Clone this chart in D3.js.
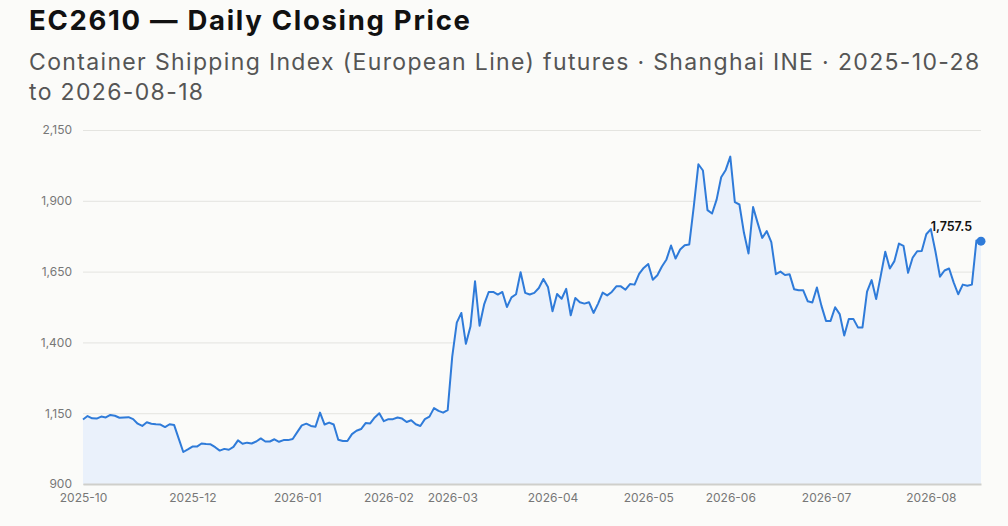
<!DOCTYPE html>
<html>
<head>
<meta charset="utf-8">
<script src="https://cdn.jsdelivr.net/npm/d3@7"></script>
<style>
    body { margin: 0; background: #fbfbf9; }
    svg { display: block; font-family: Inter, "Noto Sans", sans-serif; }
</style>
</head>
<body>
<div id="chart"></div>
<script>
// Trading days per month (INE calendar, holidays removed)
const tradingDays = {
    "2025-10": [28, 29, 30, 31],
    "2025-11": [3, 4, 5, 6, 7, 10, 11, 12, 13, 14, 17, 18, 19, 20, 21, 24, 25, 26, 27, 28],
    "2025-12": [1, 2, 3, 4, 5, 8, 9, 10, 11, 12, 15, 16, 17, 18, 19, 22, 23, 24, 25, 26, 29, 30, 31],
    "2026-01": [5, 6, 7, 8, 9, 12, 13, 14, 15, 16, 19, 20, 21, 22, 23, 26, 27, 28, 29, 30],
    "2026-02": [2, 3, 4, 5, 6, 9, 10, 11, 12, 13, 24, 25, 26, 27],
    "2026-03": [2, 3, 4, 5, 6, 9, 10, 11, 12, 13, 16, 17, 18, 19, 20, 23, 24, 25, 26, 27, 30, 31],
    "2026-04": [1, 2, 3, 7, 8, 9, 10, 13, 14, 15, 16, 17, 20, 21, 22, 23, 24, 27, 28, 29, 30],
    "2026-05": [6, 7, 8, 11, 12, 13, 14, 15, 18, 19, 20, 21, 22, 25, 26, 27, 28, 29],
    "2026-06": [1, 2, 3, 4, 5, 8, 9, 10, 11, 12, 15, 16, 17, 18, 22, 23, 24, 25, 26, 29, 30],
    "2026-07": [1, 2, 3, 6, 7, 8, 9, 10, 13, 14, 15, 16, 17, 20, 21, 22, 23, 24, 27, 28, 29, 30, 31],
    "2026-08": [3, 4, 5, 6, 7, 10, 11, 12, 13, 14, 17, 18]
};

// Daily closes, one per trading day above
const closes = [
    1128, 1140, 1132, 1131, 1138, 1135, 1144, 1141, 1134, 1135,
    1136, 1129, 1113, 1105, 1118, 1113, 1111, 1110, 1101, 1111,
    1108, 1060, 1013, 1022, 1032, 1032, 1043, 1041, 1040, 1030,
    1018, 1024, 1021, 1031, 1054, 1042, 1046, 1043, 1050, 1061,
    1050, 1050, 1058, 1049, 1055, 1055, 1059, 1083, 1107, 1113,
    1105, 1102, 1152, 1110, 1117, 1110, 1056, 1052, 1052, 1076,
    1088, 1094, 1115, 1114, 1135, 1150, 1122, 1129, 1129, 1135,
    1131, 1119, 1125, 1111, 1105, 1129, 1138, 1168, 1158, 1152,
    1161, 1350, 1470, 1504, 1395, 1456, 1616, 1459, 1534, 1578,
    1578, 1569, 1578, 1525, 1559, 1570, 1648, 1575, 1569, 1575,
    1592, 1624, 1596, 1510, 1571, 1554, 1589, 1496, 1557, 1542,
    1537, 1542, 1504, 1537, 1576, 1566, 1578, 1598, 1598, 1586,
    1606, 1604, 1642, 1663, 1677, 1621, 1637, 1668, 1693, 1742,
    1696, 1728, 1743, 1746, 1881, 2029, 2007, 1867, 1855, 1904,
    1983, 2009, 2056, 1895, 1887, 1787, 1714, 1878, 1822, 1769,
    1793, 1754, 1641, 1650, 1638, 1641, 1588, 1584, 1584, 1545,
    1541, 1594, 1529, 1476, 1476, 1524, 1500, 1424, 1483, 1483,
    1453, 1453, 1579, 1620, 1553, 1635, 1720, 1661, 1687, 1749,
    1741, 1646, 1699, 1722, 1723, 1782, 1800, 1722, 1632, 1654,
    1661, 1612, 1570, 1604, 1600, 1604, 1760, 1757.5
];

// Month labels shown on the x axis (2025-11 is skipped, too close to the start)
const monthLabels = ["2025-10", "2025-12", "2026-01", "2026-02", "2026-03", "2026-04", "2026-05", "2026-06", "2026-07", "2026-08"];
const yTicks = [900, 1150, 1400, 1650, 1900, 2150];

const title = "EC2610 — Daily Closing Price";
const subtitle = ["Container Shipping Index (European Line) futures · Shanghai INE · 2025-10-28", "to 2026-08-18"];

// build rows
const dates = [];
Object.keys(tradingDays).forEach(m => {
    tradingDays[m].forEach(d => dates.push(m + "-" + String(d).padStart(2, "0")));
});
const data = dates.map((d, i) => ({ date: d, month: d.slice(0, 7), close: closes[i] }));

// SVG dimensions
const svgWidth = 1008;
const svgHeight = 526;
const margin = { top: 130, right: 27, bottom: 42, left: 83 };
const width = svgWidth - margin.left - margin.right;
const height = svgHeight - margin.top - margin.bottom;

const svg = d3.select("#chart").append("svg")
    .attr("width", svgWidth)
    .attr("height", svgHeight);

svg.append("rect")
    .attr("width", svgWidth)
    .attr("height", svgHeight)
    .attr("fill", "#fbfbf9");

// titles (letter-spacing widens Inter toward the system font of the original)
svg.append("text")
    .attr("x", 29)
    .attr("y", 30)
    .attr("font-size", 27.5)
    .attr("font-weight", 700)
    .attr("letter-spacing", 1.7)
    .attr("fill", "#111")
    .text(title);

subtitle.forEach((line, i) => {
    svg.append("text")
        .attr("x", 29)
        .attr("y", 70 + i * 30)
        .attr("font-size", 23)
        .attr("letter-spacing", 1.35)
        .attr("fill", "#555")
        .text(line);
});

const g = svg.append("g")
    .attr("transform", "translate(" + margin.left + "," + margin.top + ")");

// scales: one slot per trading day
const xScale = d3.scalePoint()
    .domain(data.map(d => d.date))
    .range([0, width]);

const yScale = d3.scaleLinear()
    .domain([900, 2150])
    .range([height, 0]);

// gridlines + y labels
const yAxis = g.append("g")
    .call(d3.axisLeft(yScale)
        .tickValues(yTicks)
        .tickSize(-width)
        .tickPadding(11)
        .tickFormat(d3.format(",")));
yAxis.select(".domain").remove();
yAxis.selectAll(".tick line")
    .attr("stroke", "#e4e4e0")
    .attr("stroke-width", 1);
yAxis.selectAll(".tick text")
    .attr("fill", "#777")
    .attr("font-size", 12)
    .attr("font-family", "Inter, sans-serif");

// area under the line
const area = d3.area()
    .x(d => xScale(d.date))
    .y0(height)
    .y1(d => yScale(d.close));

g.append("path")
    .datum(data)
    .attr("fill", "#eaf1fb")
    .attr("d", area);

// x axis: first trading day of each labelled month
const firstOfMonth = monthLabels.map(m => data.find(d => d.month === m).date);
const xAxis = g.append("g")
    .attr("transform", "translate(0," + height + ")")
    .call(d3.axisBottom(xScale)
        .tickValues(firstOfMonth)
        .tickSize(0)
        .tickPadding(9)
        .tickFormat(d => d.slice(0, 7)));
xAxis.select(".domain")
    .attr("stroke", "#cfcfcb")
    .attr("stroke-width", 2);
xAxis.selectAll(".tick text")
    .attr("fill", "#777")
    .attr("font-size", 12)
    .attr("font-family", "Inter, sans-serif");

// price line
const line = d3.line()
    .x(d => xScale(d.date))
    .y(d => yScale(d.close));

g.append("path")
    .datum(data)
    .attr("fill", "none")
    .attr("stroke", "#2f7bd9")
    .attr("stroke-width", 2)
    .attr("stroke-linejoin", "round")
    .attr("d", line);

// last close marker
const last = data[data.length - 1];
g.append("circle")
    .attr("cx", xScale(last.date))
    .attr("cy", yScale(last.close))
    .attr("r", 4.5)
    .attr("fill", "#2f7bd9");

g.append("text")
    .attr("x", xScale(last.date) - 9)
    .attr("y", yScale(last.close) - 10)
    .attr("text-anchor", "end")
    .attr("font-size", 12.5)
    .attr("font-weight", 600)
    .attr("fill", "#111")
    .text(d3.format(",.1f")(last.close));
</script>
</body>
</html>
